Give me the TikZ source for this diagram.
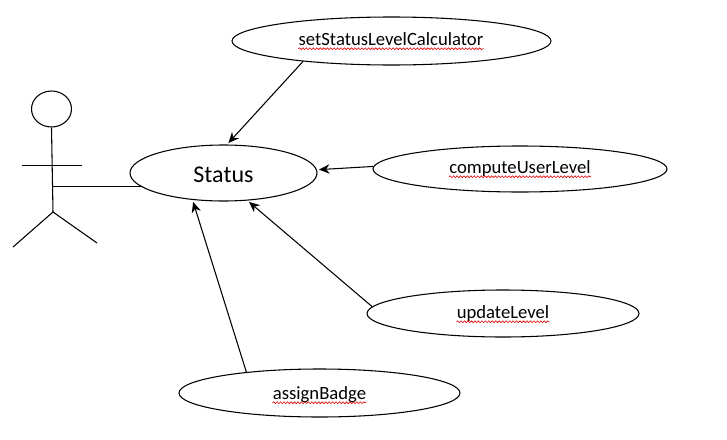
\documentclass[tikz,border=0pt]{standalone}
\usepackage{fontspec}
\setmainfont{Carlito}
\usetikzlibrary{shapes.geometric,arrows.meta,decorations.pathmorphing}
\tikzset{
  usecase/.style={draw=black,ellipse,line width=0.8pt,fill=white,inner sep=0pt},
  casetext/.style={inner sep=0pt,anchor=base,font=\fontsize{14}{16}\selectfont},
  statustext/.style={inner sep=0pt,anchor=base,font=\fontsize{18}{20}\selectfont},
  link/.style={draw=black,line width=0.8pt},
  assoc/.style={link,-{Stealth[length=8pt,width=7pt]},shorten >=1.5pt},
  squig/.style={draw=red!85!black,line width=0.45pt,decorate,decoration={snake,amplitude=0.7pt,segment length=2.6pt}}
}
\begin{document}
\begin{tikzpicture}[x=0.75pt,y=-0.75pt]
\useasboundingbox (0,0) rectangle (727,439);
\fill[white] (0,0) rectangle (727,439);
% use cases
\node[usecase,minimum width=239.25pt,minimum height=36pt] (setE) at (391.5,41) {};
\node[usecase,minimum width=140.25pt,minimum height=42pt] (statusE) at (223.5,173) {};
\node[usecase,minimum width=220.5pt,minimum height=34.5pt] (computeE) at (520,169) {};
\node[usecase,minimum width=204pt,minimum height=35.25pt] (updateE) at (503,313.5) {};
\node[usecase,minimum width=210.75pt,minimum height=36pt] (assignE) at (319.5,393) {};
% labels
\node[casetext] (setT) at (391,45) {setStatusLevelCalculator};
\node[statustext] (statusT) at (223.5,182) {Status};
\node[casetext] (computeT) at (520,173) {computeUserLevel};
\node[casetext] (updateT) at (503,318) {updateLevel};
\node[casetext] (assignT) at (319.5,399) {assignBadge};
% spell-check underlines
\draw[squig] ([yshift=-2.8pt]setT.base west) -- ([yshift=-2.8pt]setT.base east);
\draw[squig] ([yshift=-2.8pt]computeT.base west) -- ([yshift=-2.8pt]computeT.base east);
\draw[squig] ([yshift=-2.8pt]updateT.base west) -- ([yshift=-2.8pt]updateT.base east);
\draw[squig] ([yshift=-2.8pt]assignT.base west) -- ([yshift=-2.8pt]assignT.base east);
% actor
\node[draw=black,ellipse,line width=0.8pt,inner sep=0pt,minimum width=30pt,minimum height=27pt] (head) at (51.5,109) {};
\coordinate (hip) at (53,212);
\coordinate (armL) at (22,165.6);
\coordinate (armR) at (82,165.6);
\coordinate (footL) at (13,247);
\coordinate (footR) at (97,243);
\coordinate (waist) at (53,186.4);
\coordinate (waistEnd) at (143,186.4);
\draw[link] (head.south) -- (hip);
\draw[link] (armL) -- (armR);
\draw[link] (hip) -- (footL);
\draw[link] (hip) -- (footR);
\draw[link] (waist) -- (waistEnd);
% arrows
\draw[assoc] (setE.193.5) -- (statusE.83);
\draw[assoc] (computeE.179.6) -- (statusE.2);
\draw[assoc] (updateE.177) -- (statusE.-49.6);
\draw[assoc] (assignE.164) -- (statusE.221.8);
\end{tikzpicture}
\end{document}
